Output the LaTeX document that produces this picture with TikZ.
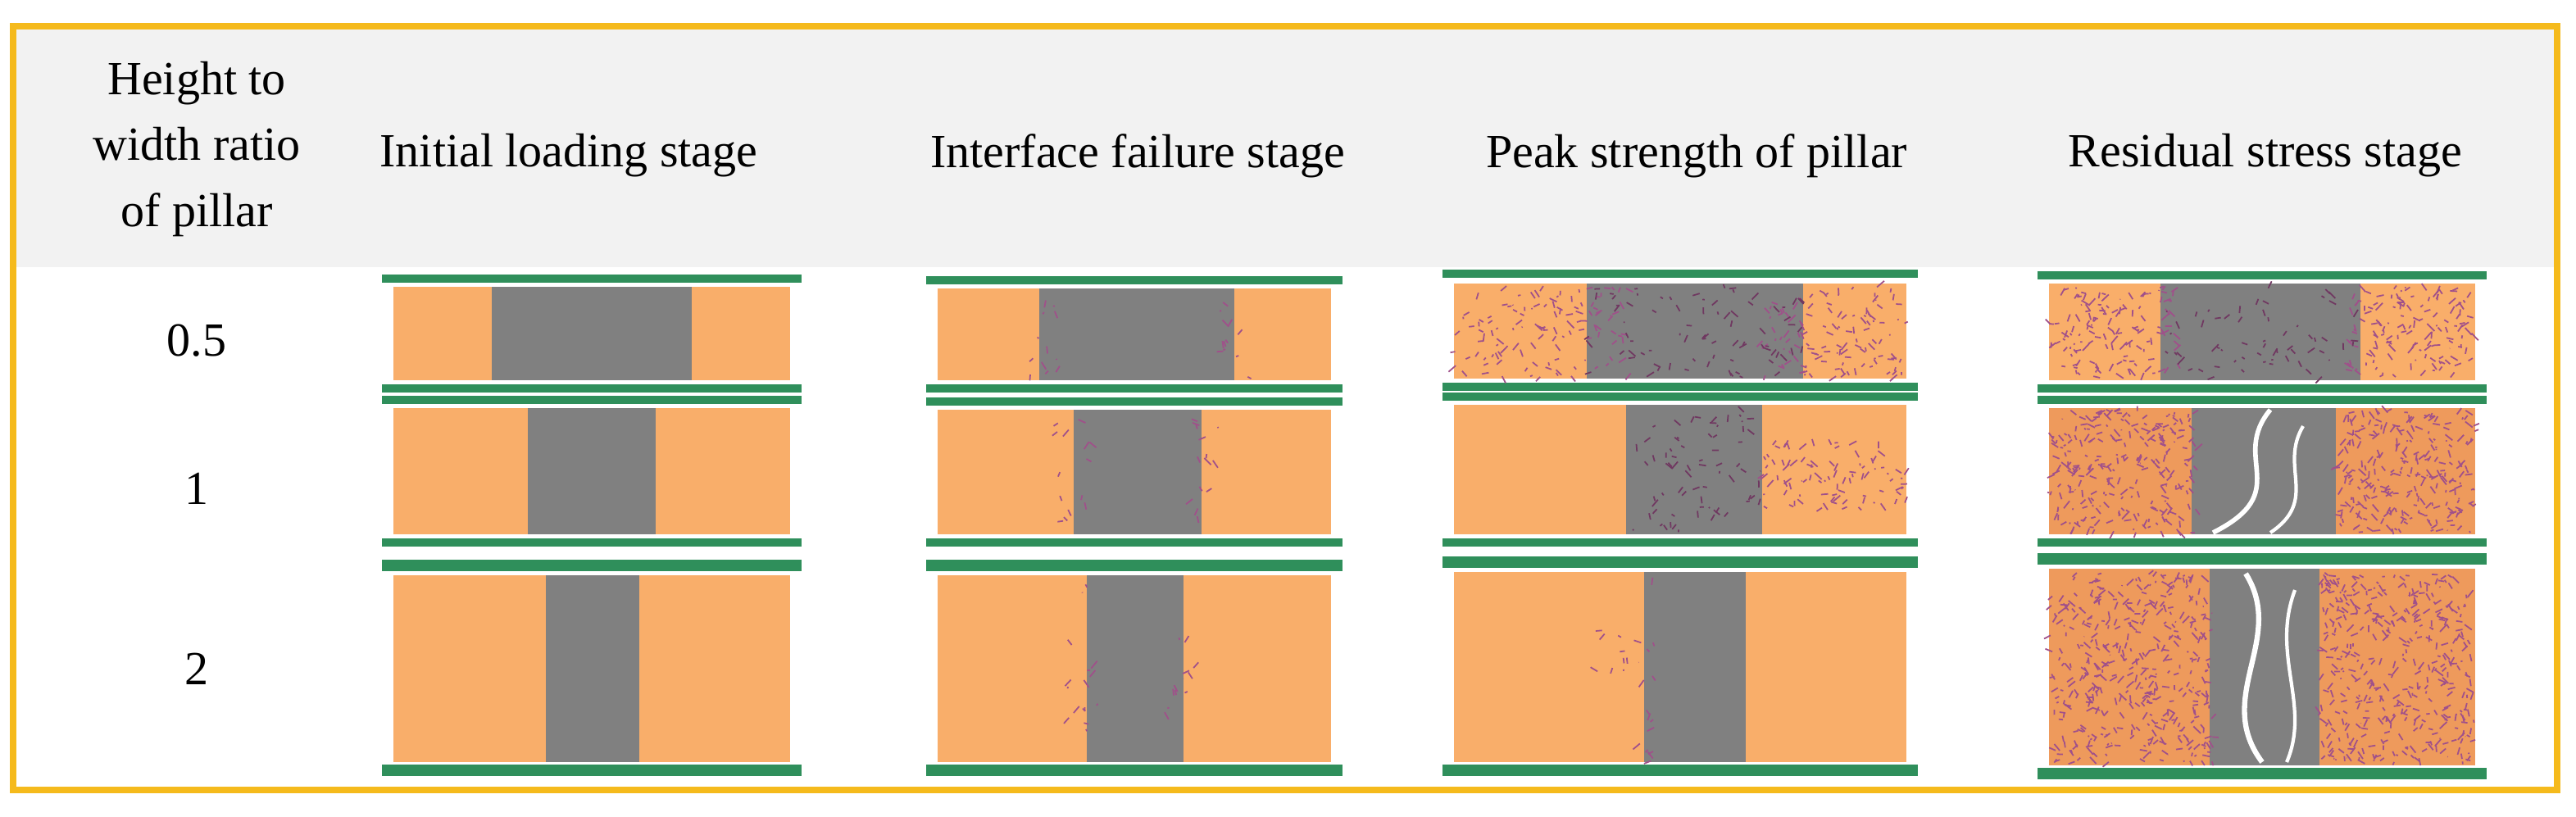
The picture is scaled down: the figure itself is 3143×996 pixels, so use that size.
\documentclass[tikz,border=0pt]{standalone}
\usepackage{fontspec}
\setmainfont{Liberation Serif}
\definecolor{gold}{HTML}{F5BA1C}
\definecolor{hdr}{HTML}{F2F2F2}
\definecolor{org}{HTML}{F9AE6A}
\definecolor{org2}{HTML}{EE9A5C}
\definecolor{pil}{HTML}{808080}
\definecolor{grn}{HTML}{2F8F5B}
\definecolor{crk}{HTML}{A0508A}
\tikzset{
  lbl/.style={font=\fontsize{16.5}{20}\selectfont, align=center},
  plate/.style={fill=grn, draw=none},
}
\newcommand{\panel}[9]{%
  \fill[#9] (#1,#3) rectangle (#2,#4);
  \fill[pil] (#5,#3) rectangle (#6,#4);
  \fill[plate] (#1-14,#7-#8) rectangle (#2+14,#7+#8);
  \fill[plate] (#1-14,#4+10-#8) rectangle (#2+14,#4+10+#8);
}
\newcommand{\mycracks}[6]{%
  \foreach \i in {1,...,#5}{%
    \pgfmathsetmacro\cx{#1+rnd*(#2-#1)}%
    \pgfmathsetmacro\cy{#3+rnd*(#4-#3)}%
    \draw[#6, line width=0.5pt] (\cx,\cy) -- ++(rand*9,rand*9);
  }}
\begin{document}
\begin{tikzpicture}[x=0.01cm,y=-0.01cm]
\useasboundingbox (0,0) rectangle (3143,996);
\fill[white] (0,0) rectangle (3143,996);
\fill[hdr] (16,32) rectangle (3120,326);
\node[lbl] (h0) at (240,182) {Height to\\[3pt]width ratio\\[3pt]of pillar};
\node[lbl] (h1) at (694,190) {Initial loading stage};
\node[lbl] (h2) at (1388,190) {Interface failure stage};
\node[lbl] (h3) at (2070,190) {Peak strength of pillar};
\node[lbl] (h4) at (2764,190) {Residual stress stage};
\node[lbl] (r1) at (240,416) {0.5};
\node[lbl] (r2) at (240,596) {1};
\node[lbl] (r3) at (240,816) {2};
\pgfmathsetseed{7}
\panel{480}{964}{350}{464}{600}{844}{340}{5}{org}
\panel{480}{964}{498}{652}{644}{800}{488}{5}{org}
\panel{480}{964}{702}{930}{666}{780}{690}{7}{org}
\panel{1144}{1624}{352}{464}{1268}{1506}{342}{5}{org}
\panel{1144}{1624}{500}{652}{1310}{1466}{490}{5}{org}
\panel{1144}{1624}{702}{930}{1326}{1444}{690}{7}{org}
\mycracks{1250}{1290}{360}{460}{12}{crk}
\mycracks{1490}{1530}{360}{460}{12}{crk}
\mycracks{1290}{1330}{510}{640}{14}{crk}
\mycracks{1450}{1490}{510}{640}{14}{crk}
\mycracks{1300}{1350}{710}{900}{16}{crk}
\mycracks{1420}{1460}{750}{920}{12}{crk}
\panel{1774}{2326}{346}{462}{1936}{2200}{334}{5}{org}
\panel{1774}{2326}{494}{652}{1984}{2150}{484}{5}{org}
\panel{1774}{2326}{698}{930}{2006}{2130}{686}{7}{org}
\mycracks{1774}{1990}{350}{460}{120}{crk}
\mycracks{2150}{2326}{350}{460}{120}{crk}
\mycracks{1936}{2200}{350}{460}{80}{crk!70!black}
\mycracks{1990}{2150}{500}{650}{70}{crk!70!black}
\mycracks{2150}{2326}{540}{620}{90}{crk}
\mycracks{1940}{2000}{760}{820}{10}{crk}
\mycracks{2000}{2020}{700}{930}{15}{crk}
\panel{2500}{3020}{346}{464}{2636}{2880}{336}{5}{org}
\panel{2500}{3020}{498}{652}{2674}{2850}{488}{5}{org2}
\panel{2500}{3020}{694}{934}{2696}{2830}{682}{7}{org2}
\mycracks{2500}{2660}{350}{460}{140}{crk}
\mycracks{2860}{3020}{350}{460}{140}{crk}
\mycracks{2636}{2880}{350}{460}{60}{crk!70!black}
\mycracks{2500}{2680}{500}{650}{260}{crk}
\mycracks{2850}{3020}{500}{650}{260}{crk}
\mycracks{2500}{2700}{700}{930}{420}{crk}
\mycracks{2830}{3020}{700}{930}{420}{crk}
\draw[white, line width=1.6pt] (2770,500) .. controls (2720,560) and (2800,600) .. (2700,650);
\draw[white, line width=1.2pt] (2810,520) .. controls (2780,570) and (2830,610) .. (2770,650);
\draw[white, line width=1.8pt] (2740,700) .. controls (2790,780) and (2700,850) .. (2760,930);
\draw[white, line width=1.2pt] (2800,720) .. controls (2770,800) and (2820,860) .. (2790,930);
\draw[gold, line width=2.5pt] (16,32) rectangle (3120,964);
\end{tikzpicture}
\end{document}
